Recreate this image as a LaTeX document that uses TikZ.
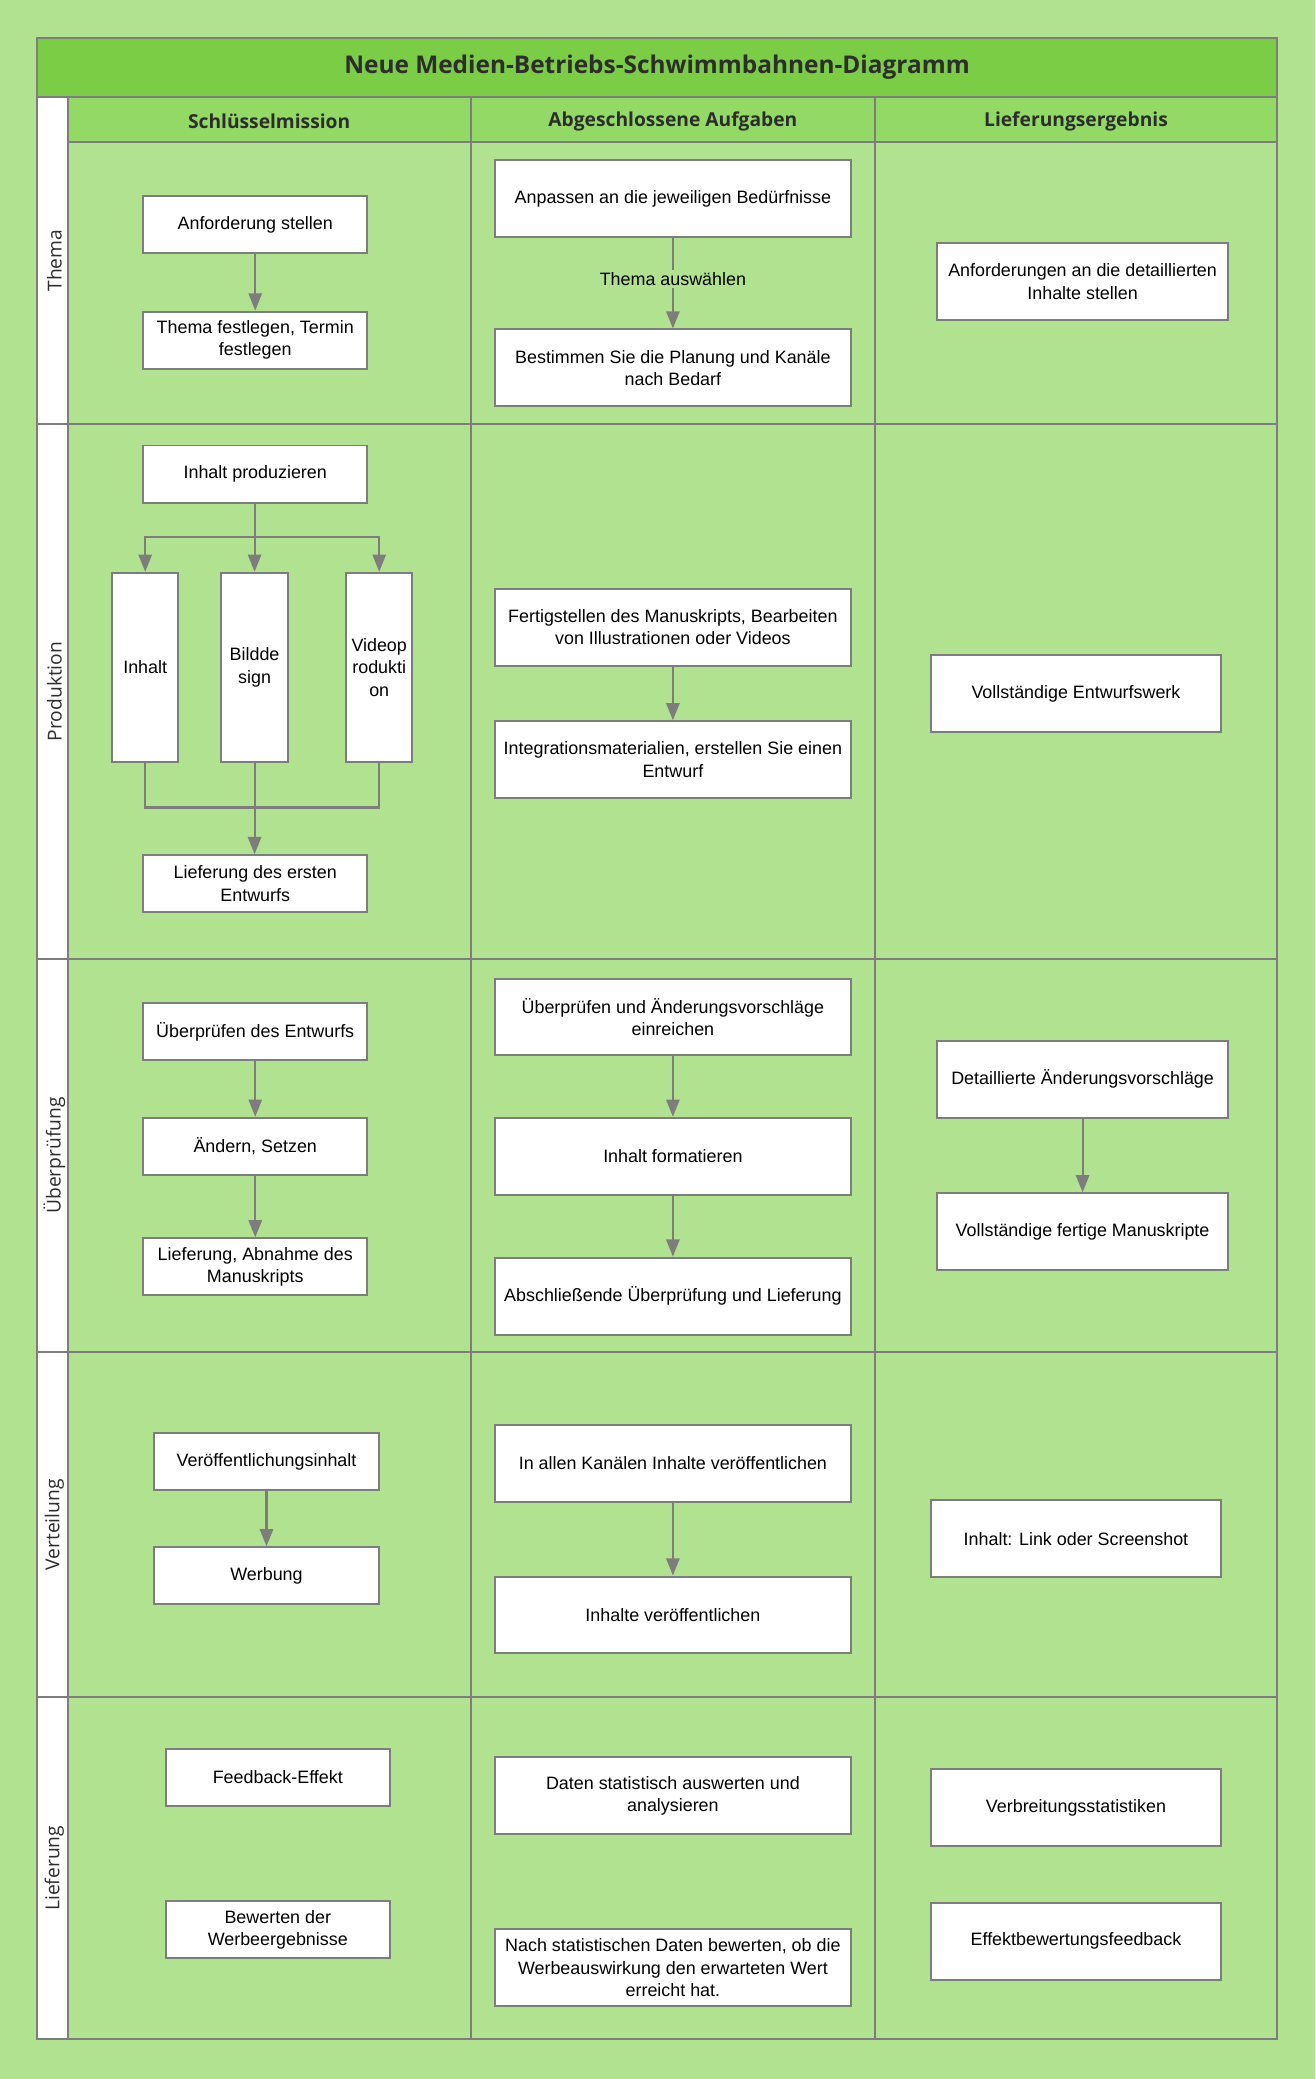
\documentclass[tikz,border=0pt]{standalone}
\usepackage{fontspec}
\setmainfont{Liberation Sans}
\newfontfamily\headfont{Open Sans}
\usetikzlibrary{arrows.meta}
\definecolor{bg}{RGB}{177,226,143}
\definecolor{titlegreen}{RGB}{122,205,68}
\definecolor{headgreen}{RGB}{146,217,102}
\definecolor{linegray}{RGB}{125,125,125}
\definecolor{darktext}{RGB}{45,45,45}
\begin{document}
\begin{tikzpicture}[x=1pt, y=-1pt, >={Triangle[length=13pt,width=10pt]},
  grid/.style={draw=linegray, line width=1.5pt},
  task/.style={draw=linegray, line width=1.5pt, fill=white, align=center, inner sep=2pt, font=\fontsize{13.5}{17}\selectfont},
  small/.style={task, minimum width=169pt, minimum height=43pt},
  big/.style={task, minimum width=269pt, minimum height=58pt},
  result/.style={task, minimum width=219pt, minimum height=58pt},
  tall/.style={task, minimum width=50pt, minimum height=143pt},
  flow/.style={->, draw=linegray, line width=1.6pt},
  link/.style={draw=linegray, line width=1.6pt},
  colhead/.style={font=\headfont\bfseries\fontsize{14.5}{17}\selectfont, text=darktext},
  lane/.style={rotate=90, font=\headfont\fontsize{14.5}{17}\selectfont, text=darktext}]
\useasboundingbox (0,0) rectangle (992,1568);
\fill[bg] (0,0) rectangle (992,1568);
\fill[headgreen] (51,73) rectangle (963,107);
\fill[white] (28,73) rectangle (51,1538);
\foreach \y in {320,723,1020,1280} \draw[grid] (28,\y) -- (963,\y);
\foreach \x in {51,355,660} \draw[grid] (\x,73) -- (\x,1538);
\draw[grid] (51,107) -- (963,107);
\draw[grid] (28,29) rectangle (963,1538);
\node[draw=linegray, line width=1.5pt, fill=titlegreen, minimum width=935pt, minimum height=44pt, font=\headfont\bfseries\fontsize{18.4}{22}\selectfont, text=darktext] (title) at (495.5,51) {Neue Medien-Betriebs-Schwimmbahnen-Diagramm};

\node[colhead] (h1) at (203,91.5) {Schlüsselmission};
\node[colhead] (h2) at (507.5,91.5) {Abgeschlossene Aufgaben};
\node[colhead] (h3) at (811.5,91.5) {Lieferungsergebnis};

\node[lane] (l1) at (41,196.5) {Thema};
\node[lane] (l2) at (41,521.5) {Produktion};
\node[lane] (l3) at (41,871.5) {Überprüfung};
\node[lane] (l4) at (41,1150) {Verteilung};
\node[lane] (l5) at (41,1409) {Lieferung};

\node[small] (req) at (192.5,169.5) {Anforderung stellen};
\node[small] (topic) at (192.5,256.5) {Thema festlegen, Termin\\festlegen};
\node[big] (adapt) at (507.5,150) {Anpassen an die jeweiligen Bedürfnisse};
\node[big] (plan) at (507.5,277.5) {Bestimmen Sie die Planung und Kanäle\\nach Bedarf};
\node[result] (detail) at (816.5,212.5) {Anforderungen an die detaillierten\\Inhalte stellen};
\draw[flow] (req) -- (topic);
\draw[flow] (adapt) -- node[fill=bg, inner sep=2pt, pos=0.45, font=\fontsize{13.5}{17}\selectfont] (choose) {Thema auswählen} (plan);

\node[small] (prod) at (192.5,357.5) {Inhalt produzieren};
\node[tall] (c1) at (109.5,503.5) {Inhalt};
\node[tall] (c2) at (192,503.5) {Bildde\\sign};
\node[tall] (c3) at (286,503.5) {Videop\\rodukti\\on};
\node[small] (draft) at (192.5,666.5) {Lieferung des ersten\\Entwurfs};
\coordinate (split) at (192,405);
\coordinate (merge) at (192,609);
\draw[link] (prod.south -| split) -- (split);
\draw[flow] (split) -| (c1);
\draw[flow] (split) -- (c2);
\draw[flow] (split) -| (c3);
\draw[link] (c1) |- (merge);
\draw[link] (c3) |- (merge);
\draw[flow] (c2) -- (c2 |- draft.north);
\node[big] (script) at (507.5,473) {Fertigstellen des Manuskripts, Bearbeiten\\von Illustrationen oder Videos};
\node[big] (merge2) at (507.5,573) {Integrationsmaterialien, erstellen Sie einen\\Entwurf};
\draw[flow] (script) -- (merge2);
\node[result] (work) at (811.5,523) {Vollständige Entwurfswerk};

\node[small] (check) at (192.5,778) {Überprüfen des Entwurfs};
\node[small] (edit) at (192.5,864.5) {Ändern, Setzen};
\node[small] (accept) at (192.5,955.5) {Lieferung, Abnahme des\\Manuskripts};
\draw[flow] (check) -- (edit);
\draw[flow] (edit) -- (accept);
\node[big] (suggest) at (507.5,767) {Überprüfen und Änderungsvorschläge\\einreichen};
\node[big] (format) at (507.5,872) {Inhalt formatieren};
\node[big] (final) at (507.5,977.5) {Abschließende Überprüfung und Lieferung};
\draw[flow] (suggest) -- (format);
\draw[flow] (format) -- (final);
\node[result] (changes) at (816.5,814) {Detaillierte Änderungsvorschläge};
\node[result] (done) at (816.5,929) {Vollständige fertige Manuskripte};
\draw[flow] (changes) -- (done);

\node[small] (pub) at (201,1102.5) {Veröffentlichungsinhalt};
\node[small] (ads) at (201,1188.5) {Werbung};
\draw[flow] (pub) -- (ads);
\node[big] (all) at (507.5,1103.5) {In allen Kanälen Inhalte veröffentlichen};
\node[big] (release) at (507.5,1218) {Inhalte veröffentlichen};
\draw[flow] (all) -- (release);
\node[result] (link) at (811.5,1160.5) {Inhalt: Link oder Screenshot};

\node[small] (fb) at (209.5,1340.5) {Feedback-Effekt};
\node[small] (rate) at (209.5,1455.5) {Bewerten der\\Werbeergebnisse};
\node[big] (stats) at (507.5,1354.5) {Daten statistisch auswerten und\\analysieren};
\node[big] (judge) at (507.5,1484) {Nach statistischen Daten bewerten, ob die\\Werbeauswirkung den erwarteten Wert\\erreicht hat.};
\node[result] (spread) at (811.5,1363.5) {Verbreitungsstatistiken};
\node[result] (effect) at (811.5,1464) {Effektbewertungsfeedback};
\end{tikzpicture}
\end{document}
